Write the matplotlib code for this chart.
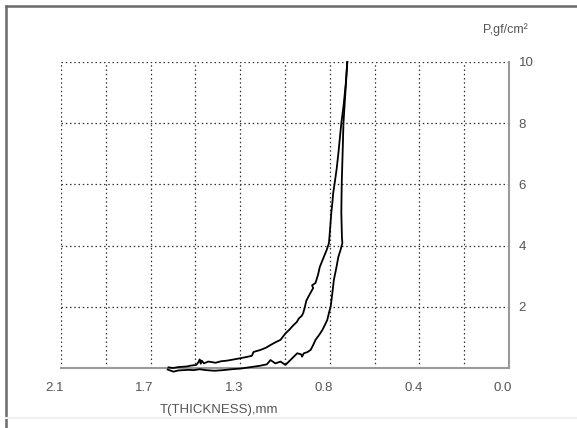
import matplotlib.pyplot as plt
import matplotlib.transforms as mtransforms
from matplotlib.lines import Line2D
from matplotlib.ticker import FixedLocator

plt.rcParams['font.family'] = ['Liberation Sans Narrow', 'Liberation Sans', 'DejaVu Sans']

# compression branch (upper / outer curve), thickness mm vs pressure gf/cm2
t_load = [1.596, 1.575, 1.55, 1.51, 1.49, 1.466, 1.455, 1.45, 1.445, 1.44, 1.43,
          1.41, 1.39, 1.376, 1.35, 1.322, 1.29, 1.259, 1.23, 1.205, 1.198, 1.19,
          1.165, 1.14, 1.118, 1.095, 1.071, 1.048, 1.03, 1.009, 0.995, 0.985,
          0.972, 0.965, 0.958, 0.950, 0.935, 0.918, 0.923, 0.907, 0.895, 0.887,
          0.868, 0.855, 0.844, 0.838, 0.833, 0.828, 0.824, 0.817, 0.808, 0.800,
          0.786, 0.775, 0.765, 0.758]
p_load = [0.02, 0.0, 0.03, 0.05, 0.08, 0.10, 0.20, 0.28, 0.14, 0.24, 0.15,
          0.21, 0.19, 0.17, 0.22, 0.24, 0.28, 0.32, 0.36, 0.40, 0.52, 0.54,
          0.59, 0.66, 0.75, 0.84, 0.92, 1.13, 1.25, 1.41, 1.50, 1.62,
          1.70, 1.79, 1.96, 2.2, 2.4, 2.61, 2.70, 2.78, 3.05, 3.30,
          3.63, 3.85, 4.08, 4.6, 5.07, 5.4, 5.72, 6.05, 6.5, 7.0,
          8.0, 8.6, 9.3, 10.0]

# recovery branch (lower / inner curve)
t_unload = [1.60, 1.573, 1.55, 1.526, 1.50, 1.479, 1.45, 1.42, 1.38, 1.34,
            1.30, 1.26, 1.22, 1.17, 1.135, 1.118, 1.095, 1.071, 1.048, 1.032,
            1.016, 0.993, 0.975, 0.970, 0.962, 0.945, 0.930, 0.918, 0.907,
            0.890, 0.875, 0.862, 0.852, 0.844, 0.836, 0.828, 0.821, 0.810,
            0.800, 0.790, 0.781, 0.783, 0.786, 0.785, 0.784, 0.780, 0.776,
            0.767, 0.758]
p_unload = [-0.05, -0.12, -0.08, -0.07, -0.06, -0.07, -0.04, -0.07, -0.09, -0.07,
            -0.04, -0.02, 0.02, 0.07, 0.12, 0.26, 0.15, 0.21, 0.10, 0.21,
            0.32, 0.48, 0.45, 0.37, 0.48, 0.52, 0.59, 0.75, 0.92,
            1.08, 1.24, 1.42, 1.57, 1.80, 2.0, 2.45, 2.88, 3.25,
            3.63, 3.85, 4.08, 4.25, 5.07, 5.6, 6.05, 7.0, 8.0,
            9.0, 10.0]

x_ticks = [2.1, 1.68, 1.26, 0.84, 0.42, 0.0]
x_tick_labels = ['2.1', '1.7', '1.3', '0.8', '0.4', '0.0']
x_grid = [2.1 - 0.21 * i for i in range(11)]
y_ticks = [2, 4, 6, 8, 10]

fig = plt.figure(figsize=(5.77, 4.28), dpi=100)
ax = fig.add_axes([61 / 577, 60 / 428, 448 / 577, 306 / 428])

ax.plot(t_load, p_load, color='black', lw=1.3, clip_on=False, zorder=5)
ax.plot(t_unload, p_unload, color='black', lw=1.3, clip_on=False, zorder=5)

ax.set_xlim(2.1, 0.0)
ax.set_ylim(0, 10)

# dotted grid
grid_style = dict(color='#333333', lw=0.9, ls=(0, (1.2, 2.2)), zorder=1)
for gx in x_grid[:-1]:
    ax.axvline(gx, **grid_style)
for gy in y_ticks:
    ax.axhline(gy, **grid_style)

for side in ['top', 'left']:
    ax.spines[side].set_visible(False)
for side in ['bottom', 'right']:
    ax.spines[side].set_color('#9a9a9a')
    ax.spines[side].set_linewidth(1.5)

ax.xaxis.set_major_locator(FixedLocator(x_ticks))
ax.set_xticklabels(x_tick_labels)
ax.yaxis.tick_right()
ax.set_yticks(y_ticks)
ax.set_yticklabels([str(v) for v in y_ticks])
ax.tick_params(axis='both', length=0, labelsize=9.5, labelcolor='#555555')
ax.tick_params(axis='x', pad=10)
ax.tick_params(axis='y', pad=7)

shift = mtransforms.ScaledTranslation(-6 / 100, 0, fig.dpi_scale_trans)
for lab in ax.get_xticklabels():
    lab.set_transform(lab.get_transform() + shift)

fig.text(219 / 577, 1 - 410 / 428, 'T(THICKNESS),mm', ha='center', va='center',
         fontsize=9.5, color='#555555')
fig.text(528 / 577, 1 - 30 / 428, 'P,gf/cm²', ha='right', va='center',
         fontsize=9, color='#555555')

# sunken window border
fig.add_artist(Line2D([6 / 577, 6 / 577], [0, 1 - 6 / 428], color='#6a6a6a', lw=1.8,
                      transform=fig.transFigure))
fig.add_artist(Line2D([6 / 577, 1], [1 - 6 / 428, 1 - 6 / 428], color='#6a6a6a', lw=1.8,
                      transform=fig.transFigure))
fig.add_artist(Line2D([6 / 577, 1], [10 / 428, 10 / 428], color='#f0f0f0', lw=1.5,
                      transform=fig.transFigure))

fig.savefig('out.png', dpi=100)
